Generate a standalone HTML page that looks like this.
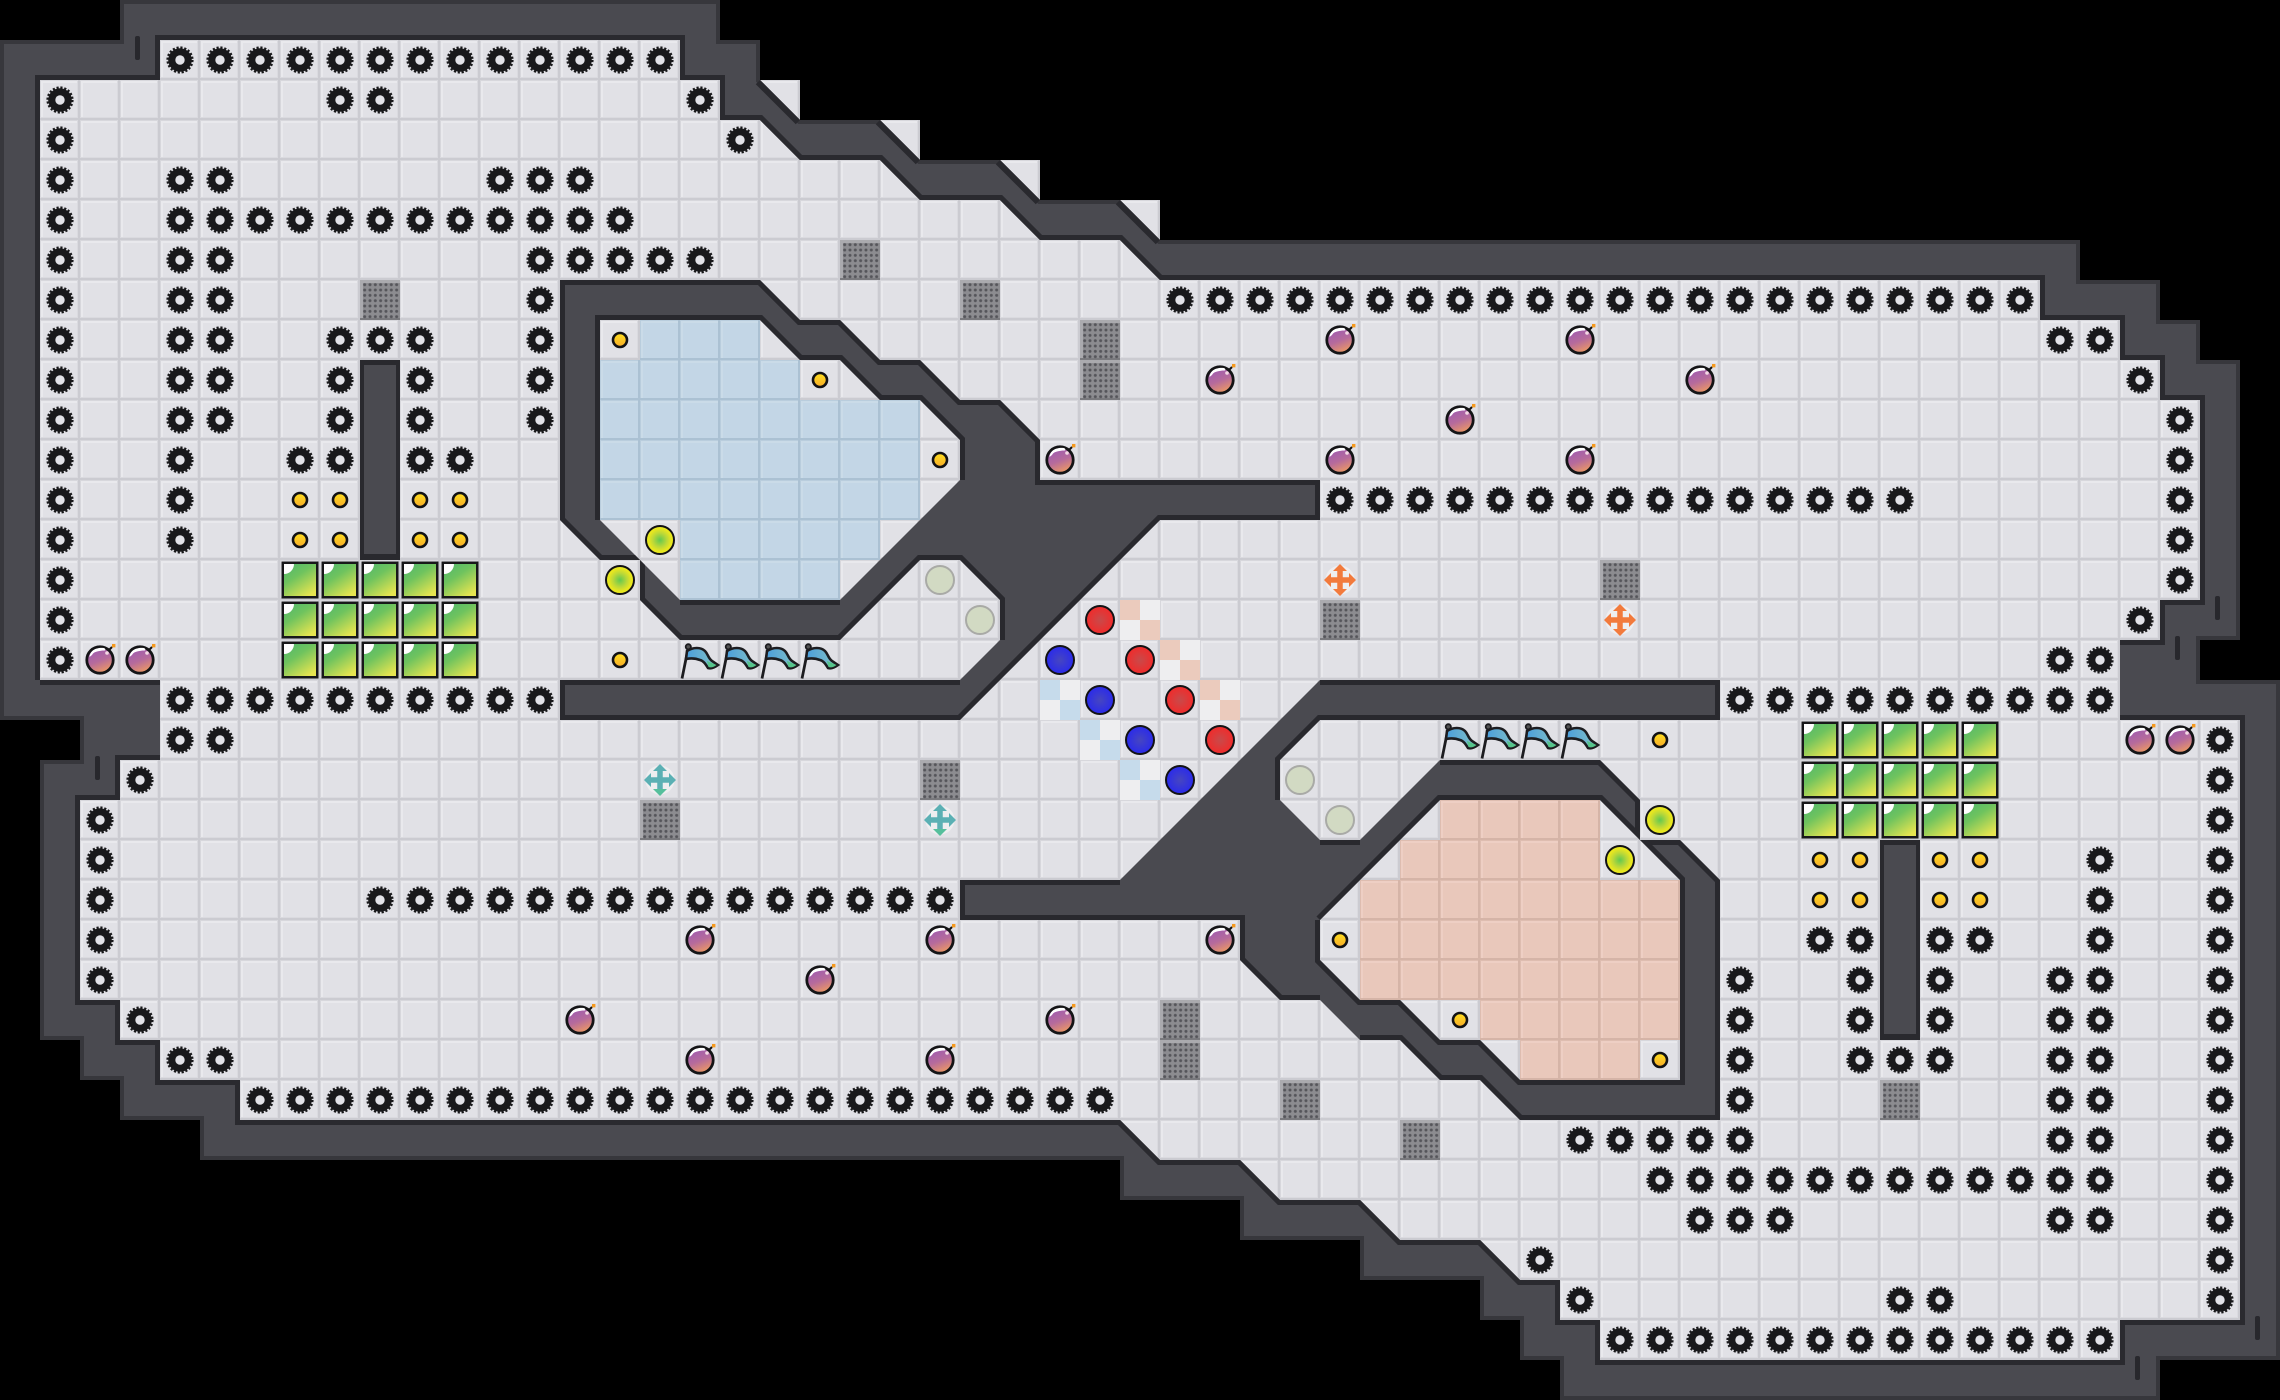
<!DOCTYPE html>
<html><head><meta charset="utf-8"><style>html,body{margin:0;padding:0;background:#000}svg{display:block}</style></head>
<body>
<svg xmlns="http://www.w3.org/2000/svg" width="2280" height="1400" viewBox="0 0 2280 1400">
<defs>
<pattern id="t" width="40" height="40" patternUnits="userSpaceOnUse"><rect width="40" height="40" fill="#e1e1e6"/><path d="M0 2H40M2 0V40" stroke="#e9e9ed" stroke-width="2"/><path d="M0 .5H40M.5 0V40" stroke="#d7d7dc" stroke-width="1"/><path d="M0 37.5H40M37.5 0V40" stroke="#dadadf" stroke-width="1"/><path d="M0 39H40M39 0V40" stroke="#cbcbd1" stroke-width="2"/></pattern>
<pattern id="tb" width="40" height="40" patternUnits="userSpaceOnUse"><rect width="40" height="40" fill="#c3d6e6"/><path d="M0 2H40M2 0V40" stroke="#cadbe8" stroke-width="2"/><path d="M0 .5H40M.5 0V40" stroke="#b9cddd" stroke-width="1"/><path d="M0 39H40M39 0V40" stroke="#abc1d3" stroke-width="2"/></pattern>
<pattern id="tp" width="40" height="40" patternUnits="userSpaceOnUse"><rect width="40" height="40" fill="#e9c8bb"/><path d="M0 2H40M2 0V40" stroke="#eecfc4" stroke-width="2"/><path d="M0 .5H40M.5 0V40" stroke="#debdb0" stroke-width="1"/><path d="M0 39H40M39 0V40" stroke="#d5b4a7" stroke-width="2"/></pattern>
<pattern id="dots" x="2" y="2" width="5.33" height="5.33" patternUnits="userSpaceOnUse"><circle cx="2.66" cy="2.66" r="1.5" fill="#55555a"/></pattern>
<linearGradient id="gb" x1=".1" y1="0" x2=".75" y2="1"><stop offset="0" stop-color="#52b86c"/><stop offset=".4" stop-color="#6fc35e"/><stop offset="1" stop-color="#e6e450"/></linearGradient>
<linearGradient id="bm" x1=".2" y1="0" x2=".6" y2="1"><stop offset="0" stop-color="#9a58b4"/><stop offset=".55" stop-color="#b56a9c"/><stop offset="1" stop-color="#ee9a62"/></linearGradient>
<linearGradient id="co" x1="0" y1="0" x2="0" y2="1"><stop offset="0" stop-color="#ffe01e"/><stop offset="1" stop-color="#f8ac2a"/></linearGradient>
<linearGradient id="fl" x1="0" y1="0" x2="1" y2="0"><stop offset="0" stop-color="#4a9edc"/><stop offset="1" stop-color="#86c4c4"/></linearGradient>
<radialGradient id="yg"><stop offset="0" stop-color="#62c850"/><stop offset=".5" stop-color="#bcd838"/><stop offset=".8" stop-color="#e6e620"/><stop offset="1" stop-color="#eeee1c"/></radialGradient>
<radialGradient id="rd"><stop offset="0" stop-color="#c84a4a"/><stop offset="1" stop-color="#f22a2a"/></radialGradient>
<radialGradient id="bl"><stop offset="0" stop-color="#4646c0"/><stop offset="1" stop-color="#2a2aec"/></radialGradient>
<clipPath id="cf"><path transform="scale(40)" d="M4 1H17V2H18V3H19L20 4H22L23 5H25L26 6H28L29 7H51V8H53V9H54V10H55V15H54V16H53V18H56V33H53V34H40V33H39V32H38L37 31H35L34 30H32L31 29H29L28 28H6V27H4V26H3V25H2V20H3V19H4V17H1V2H4Z M19 2H20V3Z M22 3H23V4Z M25 4H26V5Z M28 5H29V6Z"/></clipPath>
<clipPath id="co1"><path transform="scale(40)" clip-rule="evenodd" d="M3 0H18V1H19V2L20 3H22L23 4H25L26 5H28L29 6H52V7H54V8H55V9H56V16H55V17H57V34H54V35H39V34H38V33H37V32H34V31H31V30H28V29H5V28H3V27H2V26H1V19H2V18H0V1H3Z M4 1H17V2H18V3H19L20 4H22L23 5H25L26 6H28L29 7H51V8H53V9H54V10H55V15H54V16H53V18H56V33H53V34H40V33H39V32H38L37 31H35L34 30H32L31 29H29L28 28H6V27H4V26H3V25H2V20H3V19H4V17H1V2H4Z"/></clipPath>
<clipPath id="cA"><path transform="scale(40)" clip-rule="evenodd" d="M14 7H19L20 8H21L22 9H23L24 10H25L26 11V12H33V13H29L24 18H14V17H24L25 16V15L24 14H23L21 16H17L16 15V14H15L14 13Z M15 8H19L20 9H21L22 10H23L24 11V12L21 15H17L15 13Z"/></clipPath>
<clipPath id="cB"><path transform="scale(40)" clip-rule="evenodd" d="M43 28H38L37 27H36L35 26H34L33 25H32L31 24V23H24V22H28L33 17H43V18H33L32 19V20L33 21H34L36 19H40L41 20V21H42L43 22Z M42 27H38L37 26H36L35 25H34L33 24V23L36 20H40L42 22Z"/></clipPath>
<g id="g"><circle r="8" fill="none" stroke="#19191b" stroke-width="7.6"/><circle r="12" fill="none" stroke="#19191b" stroke-width="3.2" stroke-dasharray="2.1 1.67"/><circle r="4.7" fill="#e3e3e8"/></g>
<g id="bomb"><path d="M28 11L32 7" stroke="#111" stroke-width="2"/><circle cx="20" cy="20" r="13.2" fill="url(#bm)" stroke="#141416" stroke-width="2.8"/><rect x="32" y="4" width="3.4" height="3.4" fill="#f59a1e"/><path d="M9.5 17C10 10 17 7 24 8C26 9 26 11 23 10.5C20 11 14 11 12 15Z" fill="#fff"/><circle cx="27" cy="13" r="1.8" fill="#f4d8e4"/></g>
<g id="gr"><rect x="1.5" y="1.5" width="37" height="37" fill="#18181a"/><rect x="4" y="4" width="32" height="32" fill="url(#gb)"/><path d="M4 4H14A10 10 0 0 1 4 14Z" fill="#fff"/></g>
<g id="c"><circle r="7" fill="url(#co)" stroke="#121214" stroke-width="2.6"/></g>
<g id="yc"><circle r="14" fill="url(#yg)" stroke="#121214" stroke-width="2"/></g>
<g id="pc"><circle r="14" fill="#d2dac3" stroke="#a9aaa6" stroke-width="2"/></g>
<g id="rc"><circle r="14" fill="url(#rd)" stroke="#121214" stroke-width="2"/></g>
<g id="bc"><circle r="14" fill="url(#bl)" stroke="#121214" stroke-width="2"/></g>
<g id="pf"><rect width="40" height="40" fill="#8c8c90"/><path d="M0 1.5H40M1.5 0V40" stroke="#aaaaae" stroke-width="3"/><path d="M0 39H40" stroke="#7a7a7e" stroke-width="2"/><rect x="2" y="2" width="37" height="37" fill="url(#dots)"/></g>
<g id="fg"><path d="M2 38.5L8 9" stroke="#1d1d20" stroke-width="2.8"/><circle cx="8.3" cy="6.8" r="2.6" fill="#555" stroke="#1d1d20" stroke-width="1.8"/><path d="M7 11C13 7 21 7 25 11C28 14 28 18 32 21L38 25C34 28 31 29 28 28C26 25 24 21 20 20C15 18 11 18 6 19Z" fill="url(#fl)" stroke="#1d1d20" stroke-width="2.6"/><path d="M27 21L36.5 25C34 27 31 28 28.5 27Z" fill="#55c48a"/></g>
<g id="xo"><circle r="14.5" fill="#eeeef0"/><path d="M-11 0H11M0 -11V11" stroke="#f27a3c" stroke-width="5.5"/><path d="M-16 0L-9 -7V7ZM16 0L9 -7V7ZM0 -16L-7 -9H7ZM0 16L-7 9H7Z" fill="#f27a3c"/></g>
<g id="xt"><circle r="14.5" fill="#eeeef0"/><path d="M-11 0H11M0 -11V11" stroke="#5bb0b4" stroke-width="5.5"/><path d="M-16 0L-9 -7V7ZM16 0L9 -7V7ZM0 -16L-7 -9H7Z" fill="#5bb0b4"/><path d="M0 16L-7 9H7Z" fill="#56bf9c"/></g>
<g id="ko"><rect width="20" height="20" fill="#ebcbbd"/><rect x="20" width="20" height="20" fill="#eeeef0"/><rect y="20" width="20" height="20" fill="#eeeef0"/><rect x="20" y="20" width="20" height="20" fill="#ebcbbd"/></g>
<g id="kb"><rect width="20" height="20" fill="#c6dbeb"/><rect x="20" width="20" height="20" fill="#eeeef0"/><rect y="20" width="20" height="20" fill="#eeeef0"/><rect x="20" y="20" width="20" height="20" fill="#c6dbeb"/></g>
<g id="half">
<g transform="translate(0 60)"><use href="#g" x="180"/><use href="#g" x="220"/><use href="#g" x="260"/><use href="#g" x="300"/><use href="#g" x="340"/><use href="#g" x="380"/><use href="#g" x="420"/><use href="#g" x="460"/><use href="#g" x="500"/><use href="#g" x="540"/><use href="#g" x="580"/><use href="#g" x="620"/><use href="#g" x="660"/></g>
<g transform="translate(0 100)"><use href="#g" x="60"/><use href="#g" x="340"/><use href="#g" x="380"/><use href="#g" x="700"/></g>
<g transform="translate(0 140)"><use href="#g" x="60"/><use href="#g" x="740"/></g>
<g transform="translate(0 180)"><use href="#g" x="60"/><use href="#g" x="180"/><use href="#g" x="220"/><use href="#g" x="500"/><use href="#g" x="540"/><use href="#g" x="580"/></g>
<g transform="translate(0 220)"><use href="#g" x="60"/><use href="#g" x="180"/><use href="#g" x="220"/><use href="#g" x="260"/><use href="#g" x="300"/><use href="#g" x="340"/><use href="#g" x="380"/><use href="#g" x="420"/><use href="#g" x="460"/><use href="#g" x="500"/><use href="#g" x="540"/><use href="#g" x="580"/><use href="#g" x="620"/></g>
<g transform="translate(0 260)"><use href="#g" x="60"/><use href="#g" x="180"/><use href="#g" x="220"/><use href="#g" x="540"/><use href="#g" x="580"/><use href="#g" x="620"/><use href="#g" x="660"/><use href="#g" x="700"/></g>
<g transform="translate(0 300)"><use href="#g" x="60"/><use href="#g" x="180"/><use href="#g" x="220"/><use href="#g" x="540"/></g>
<g transform="translate(0 340)"><use href="#g" x="60"/><use href="#g" x="180"/><use href="#g" x="220"/><use href="#g" x="340"/><use href="#g" x="380"/><use href="#g" x="420"/><use href="#g" x="540"/></g>
<g transform="translate(0 380)"><use href="#g" x="60"/><use href="#g" x="180"/><use href="#g" x="220"/><use href="#g" x="340"/><use href="#g" x="420"/><use href="#g" x="540"/></g>
<g transform="translate(0 420)"><use href="#g" x="60"/><use href="#g" x="180"/><use href="#g" x="220"/><use href="#g" x="340"/><use href="#g" x="420"/><use href="#g" x="540"/></g>
<g transform="translate(0 460)"><use href="#g" x="60"/><use href="#g" x="180"/><use href="#g" x="300"/><use href="#g" x="340"/><use href="#g" x="420"/><use href="#g" x="460"/></g>
<g transform="translate(0 500)"><use href="#g" x="60"/><use href="#g" x="180"/></g>
<g transform="translate(0 540)"><use href="#g" x="60"/><use href="#g" x="180"/></g>
<use href="#g" x="60" y="580"/><use href="#g" x="60" y="620"/><use href="#g" x="60" y="660"/>
<g transform="translate(0 700)"><use href="#g" x="180"/><use href="#g" x="220"/><use href="#g" x="260"/><use href="#g" x="300"/><use href="#g" x="340"/><use href="#g" x="380"/><use href="#g" x="420"/><use href="#g" x="460"/><use href="#g" x="500"/><use href="#g" x="540"/></g>
<use href="#g" x="180" y="740"/><use href="#g" x="220" y="740"/>
<use href="#g" x="140" y="780"/>
<use href="#g" x="100" y="820"/><use href="#g" x="100" y="860"/><use href="#g" x="100" y="900"/><use href="#g" x="100" y="940"/><use href="#g" x="100" y="980"/>
<use href="#g" x="140" y="1020"/>
<use href="#g" x="180" y="1060"/><use href="#g" x="220" y="1060"/>
<g transform="translate(0 900)"><use href="#g" x="380"/><use href="#g" x="420"/><use href="#g" x="460"/><use href="#g" x="500"/><use href="#g" x="540"/><use href="#g" x="580"/><use href="#g" x="620"/><use href="#g" x="660"/><use href="#g" x="700"/><use href="#g" x="740"/><use href="#g" x="780"/><use href="#g" x="820"/><use href="#g" x="860"/><use href="#g" x="900"/><use href="#g" x="940"/></g>
<g transform="translate(0 1100)"><use href="#g" x="260"/><use href="#g" x="300"/><use href="#g" x="340"/><use href="#g" x="380"/><use href="#g" x="420"/><use href="#g" x="460"/><use href="#g" x="500"/><use href="#g" x="540"/><use href="#g" x="580"/><use href="#g" x="620"/><use href="#g" x="660"/><use href="#g" x="700"/><use href="#g" x="740"/><use href="#g" x="780"/><use href="#g" x="820"/><use href="#g" x="860"/><use href="#g" x="900"/><use href="#g" x="940"/><use href="#g" x="980"/><use href="#g" x="1020"/><use href="#g" x="1060"/><use href="#g" x="1100"/></g>
</g>
</defs>

<rect width="2280" height="1400" fill="#000"/>
<rect width="2280" height="1400" fill="url(#t)" clip-path="url(#cf)"/>
<path d="M640 320H760V360H800V400H920V520H880V560H840V600H680V520H600V360H640Z" fill="url(#tb)"/>
<path d="M1440 800H1600V880H1680V1040H1640V1080H1520V1040H1480V1000H1360V880H1400V840H1440Z" fill="url(#tp)"/>

<!-- outer wall -->
<path transform="scale(40)" fill="#4a4a50" fill-rule="evenodd" d="M3 0H18V1H19V2L20 3H22L23 4H25L26 5H28L29 6H52V7H54V8H55V9H56V16H55V17H57V34H54V35H39V34H38V33H37V32H34V31H31V30H28V29H5V28H3V27H2V26H1V19H2V18H0V1H3Z M4 1H17V2H18V3H19L20 4H22L23 5H25L26 6H28L29 7H51V8H53V9H54V10H55V15H54V16H53V18H56V33H53V34H40V33H39V32H38L37 31H35L34 30H32L31 29H29L28 28H6V27H4V26H3V25H2V20H3V19H4V17H1V2H4Z"/>
<g clip-path="url(#co1)">
<path transform="scale(40)" fill="none" stroke="#37373c" stroke-width=".2" d="M3 0H18V1H19V2L20 3H22L23 4H25L26 5H28L29 6H52V7H54V8H55V9H56V16H55V17H57V34H54V35H39V34H38V33H37V32H34V31H31V30H28V29H5V28H3V27H2V26H1V19H2V18H0V1H3Z"/>
<path transform="scale(40)" fill="none" stroke="#29292e" stroke-width=".3" d="M19 2L20 3M22 3L23 4M25 4L26 5M28 5L29 6"/>
<path transform="scale(40)" fill="none" stroke="#2a2a2f" stroke-width=".25" d="M1 17V2H4V1H17V2H18V3H19L20 4H22L23 5H25L26 6H28L29 7H51V8H53V9H54V10H55V15H54V16H53M53 18H56V33H53V34H40V33H39V32H38L37 31H35L34 30H32L31 29H29L28 28H6V27H4V26H3V25H2V20H3V19H4M4 17H1"/>
</g>
<!-- slits -->
<g fill="#28282d">
<rect x="135" y="36" width="5" height="24" rx="2"/><rect x="95" y="756" width="5" height="24" rx="2"/><rect x="1695" y="1076" width="5" height="24" rx="2"/><rect x="2215" y="596" width="5" height="24" rx="2"/><rect x="2175" y="636" width="5" height="24" rx="2"/><rect x="2255" y="1316" width="5" height="24" rx="2"/><rect x="2135" y="1356" width="5" height="24" rx="2"/>
</g>
<!-- inner walls -->
<path transform="scale(40)" fill="#4a4a50" fill-rule="evenodd" d="M14 7H19L20 8H21L22 9H23L24 10H25L26 11V12H33V13H29L24 18H14V17H24L25 16V15L24 14H23L21 16H17L16 15V14H15L14 13Z M15 8H19L20 9H21L22 10H23L24 11V12L21 15H17L15 13Z"/>
<g clip-path="url(#cA)"><path transform="scale(40)" fill="none" stroke="#29292e" stroke-width=".25" d="M24 17H14V18H24L29 13H33V12H26V11L25 10H24L23 9H22L21 8H20L19 7H14V13L15 14H16V15L17 16H21L23 14H24L25 15V16M17 15H21M24 12V11L23 10H22L21 9H20L19 8H15V13"/></g>
<path transform="scale(40)" fill="#4a4a50" fill-rule="evenodd" d="M43 28H38L37 27H36L35 26H34L33 25H32L31 24V23H24V22H28L33 17H43V18H33L32 19V20L33 21H34L36 19H40L41 20V21H42L43 22Z M42 27H38L37 26H36L35 25H34L33 24V23L36 20H40L42 22Z"/>
<g clip-path="url(#cB)"><path transform="scale(40)" fill="none" stroke="#29292e" stroke-width=".25" d="M24 22H28M33 17H43V18H33L32 19V20M34 21H33M36 19H40L41 20V21H42L43 22V28H38L37 27H36L35 26H34M33 25H32L31 24V23H24V22M33 23L36 20H40L42 22V27H38L37 26H36L35 25H34L33 24V23"/></g>
<!-- columns -->
<rect x="360" y="360" width="40" height="200" fill="#29292e"/><rect x="364" y="365" width="32" height="189" fill="#4a4a50"/>
<rect x="1880" y="840" width="40" height="200" fill="#29292e"/><rect x="1884" y="845" width="32" height="189" fill="#4a4a50"/>

<!-- gears -->
<use href="#half"/>
<use href="#half" transform="rotate(180 1140 700)"/>

<!-- perforated tiles -->
<use href="#pf" x="840" y="240"/><use href="#pf" x="360" y="280"/><use href="#pf" x="960" y="280"/><use href="#pf" x="1080" y="320"/><use href="#pf" x="1080" y="360"/><use href="#pf" x="1600" y="560"/><use href="#pf" x="1320" y="600"/><use href="#pf" x="920" y="760"/><use href="#pf" x="640" y="800"/><use href="#pf" x="1160" y="1000"/><use href="#pf" x="1160" y="1040"/><use href="#pf" x="1280" y="1080"/><use href="#pf" x="1400" y="1120"/><use href="#pf" x="1880" y="1080"/>

<!-- green blocks -->
<use href="#gr" x="280" y="560"/><use href="#gr" x="320" y="560"/><use href="#gr" x="360" y="560"/><use href="#gr" x="400" y="560"/><use href="#gr" x="440" y="560"/>
<use href="#gr" x="280" y="600"/><use href="#gr" x="320" y="600"/><use href="#gr" x="360" y="600"/><use href="#gr" x="400" y="600"/><use href="#gr" x="440" y="600"/>
<use href="#gr" x="280" y="640"/><use href="#gr" x="320" y="640"/><use href="#gr" x="360" y="640"/><use href="#gr" x="400" y="640"/><use href="#gr" x="440" y="640"/>
<use href="#gr" x="1800" y="720"/><use href="#gr" x="1840" y="720"/><use href="#gr" x="1880" y="720"/><use href="#gr" x="1920" y="720"/><use href="#gr" x="1960" y="720"/>
<use href="#gr" x="1800" y="760"/><use href="#gr" x="1840" y="760"/><use href="#gr" x="1880" y="760"/><use href="#gr" x="1920" y="760"/><use href="#gr" x="1960" y="760"/>
<use href="#gr" x="1800" y="800"/><use href="#gr" x="1840" y="800"/><use href="#gr" x="1880" y="800"/><use href="#gr" x="1920" y="800"/><use href="#gr" x="1960" y="800"/>

<!-- coins -->
<use href="#c" x="300" y="500"/><use href="#c" x="340" y="500"/><use href="#c" x="420" y="500"/><use href="#c" x="460" y="500"/>
<use href="#c" x="300" y="540"/><use href="#c" x="340" y="540"/><use href="#c" x="420" y="540"/><use href="#c" x="460" y="540"/>
<use href="#c" x="1820" y="860"/><use href="#c" x="1860" y="860"/><use href="#c" x="1940" y="860"/><use href="#c" x="1980" y="860"/>
<use href="#c" x="1820" y="900"/><use href="#c" x="1860" y="900"/><use href="#c" x="1940" y="900"/><use href="#c" x="1980" y="900"/>
<use href="#c" x="620" y="340"/><use href="#c" x="820" y="380"/><use href="#c" x="940" y="460"/><use href="#c" x="620" y="660"/>
<use href="#c" x="1660" y="1060"/><use href="#c" x="1460" y="1020"/><use href="#c" x="1340" y="940"/><use href="#c" x="1660" y="740"/>

<!-- circles -->
<use href="#yc" x="660" y="540"/><use href="#yc" x="620" y="580"/><use href="#yc" x="1660" y="820"/><use href="#yc" x="1620" y="860"/>
<use href="#pc" x="940" y="580"/><use href="#pc" x="980" y="620"/><use href="#pc" x="1300" y="780"/><use href="#pc" x="1340" y="820"/>

<!-- checkers -->
<use href="#ko" x="1120" y="600"/><use href="#ko" x="1160" y="640"/><use href="#ko" x="1200" y="680"/>
<use href="#kb" x="1040" y="680"/><use href="#kb" x="1080" y="720"/><use href="#kb" x="1120" y="760"/>
<use href="#rc" x="1100" y="620"/><use href="#rc" x="1140" y="660"/><use href="#rc" x="1180" y="700"/><use href="#rc" x="1220" y="740"/>
<use href="#bc" x="1060" y="660"/><use href="#bc" x="1100" y="700"/><use href="#bc" x="1140" y="740"/><use href="#bc" x="1180" y="780"/>

<!-- crosses -->
<use href="#xo" x="1340" y="580"/><use href="#xo" x="1620" y="620"/><use href="#xt" x="660" y="780"/><use href="#xt" x="940" y="820"/>

<!-- flags -->
<use href="#fg" x="680" y="640"/><use href="#fg" x="720" y="640"/><use href="#fg" x="760" y="640"/><use href="#fg" x="800" y="640"/>
<use href="#fg" x="1440" y="720"/><use href="#fg" x="1480" y="720"/><use href="#fg" x="1520" y="720"/><use href="#fg" x="1560" y="720"/>

<!-- bombs -->
<use href="#bomb" x="80" y="640"/><use href="#bomb" x="120" y="640"/><use href="#bomb" x="2120" y="720"/><use href="#bomb" x="2160" y="720"/>
<use href="#bomb" x="1320" y="320"/><use href="#bomb" x="1560" y="320"/><use href="#bomb" x="1200" y="360"/><use href="#bomb" x="1680" y="360"/><use href="#bomb" x="1440" y="400"/><use href="#bomb" x="1040" y="440"/><use href="#bomb" x="1320" y="440"/><use href="#bomb" x="1560" y="440"/>
<use href="#bomb" x="680" y="920"/><use href="#bomb" x="920" y="920"/><use href="#bomb" x="1200" y="920"/><use href="#bomb" x="800" y="960"/><use href="#bomb" x="560" y="1000"/><use href="#bomb" x="1040" y="1000"/><use href="#bomb" x="680" y="1040"/><use href="#bomb" x="920" y="1040"/>
</svg>
</body></html>
